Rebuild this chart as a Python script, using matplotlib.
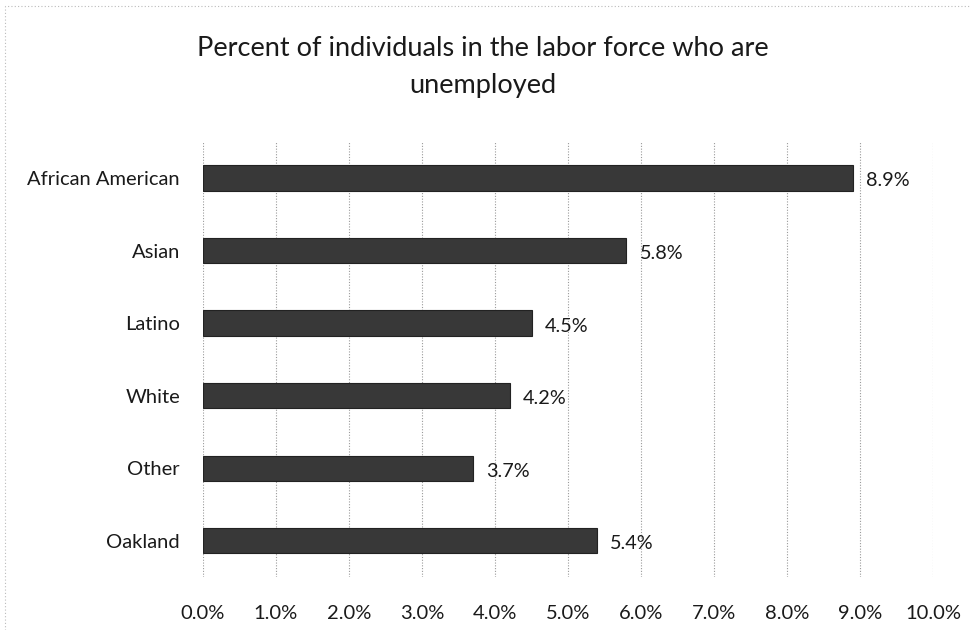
import matplotlib
matplotlib.use("Agg")
import matplotlib.pyplot as plt
from matplotlib.ticker import FuncFormatter

categories = ["African American", "Asian", "Latino", "White", "Other", "Oakland"]
values = [8.9, 5.8, 4.5, 4.2, 3.7, 5.4]
xticks = [0, 1, 2, 3, 4, 5, 6, 7, 8, 9, 10]

plt.rcParams['font.family'] = ['Lato', 'DejaVu Sans']

fig = plt.figure(figsize=(9.71, 6.3), dpi=100)
ax = fig.add_axes([0.209, 0.084, 0.752, 0.691])

ypos = list(range(len(categories)))[::-1]
bars = ax.barh(ypos, values, height=0.35, color='#383838', edgecolor='#222222', linewidth=0.8, zorder=3)

for y, v in zip(ypos, values):
    ax.text(v + 0.18, y - 0.04, f"{v:.1f}%", va='center', ha='left', fontsize=14.3, color='#1a1a1a')

ax.set_xlim(0, 10)
ax.set_ylim(-0.5, len(categories) - 0.5)
ax.set_xticks(xticks)
ax.xaxis.set_major_formatter(FuncFormatter(lambda x, p: f"{x:.1f}%"))
ax.set_yticks(ypos)
ax.set_yticklabels(categories)
ax.tick_params(axis='both', length=0, labelsize=14.5, colors='#1a1a1a')
ax.tick_params(axis='x', pad=20)
ax.tick_params(axis='y', pad=16.5)
ax.grid(axis='x', color='#9a9a9a', linestyle=(0, (1, 1.5)), linewidth=0.8, zorder=0)
for s in ax.spines.values():
    s.set_visible(False)

fig.text(0.497, 0.894, "Percent of individuals in the labor force who are\nunemployed",
         ha='center', va='center', fontsize=19.5, color='#1a1a1a', linespacing=1.6)

# faint outer border (chart area frame)
fig.add_artist(plt.Rectangle((0.005, -0.01), 1.2, 1.0, transform=fig.transFigure,
                             fill=False, edgecolor='#bbbbbb', linewidth=0.8, linestyle=(0, (1, 2))))

fig.savefig("out.png", dpi=100)
